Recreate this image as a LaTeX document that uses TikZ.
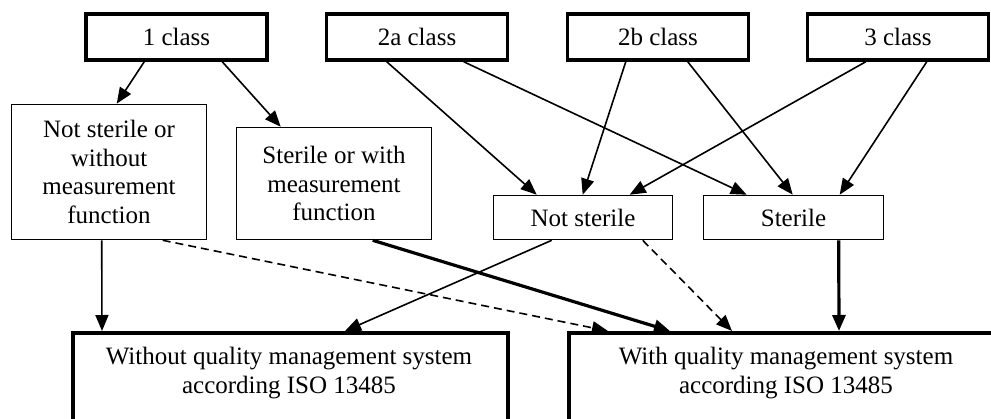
\documentclass[tikz,border=0pt]{standalone}
\usepackage{fontspec}
\setmainfont{Liberation Serif}
\usetikzlibrary{arrows.meta}
\begin{document}
\begin{tikzpicture}[x=1pt,y=-1pt,
  every node/.style={font=\fontsize{25}{28.5}\selectfont, inner sep=0pt, align=center},
  classbox/.style={draw, line width=3.5pt, minimum width=181pt, minimum height=46pt},
  midbox/.style={draw, line width=1.6pt},
  qmsbox/.style={draw, line width=3.5pt, minimum height=120pt, minimum width=435pt, anchor=north west},
  qmstext/.style={font=\fontsize{25}{29.5}\selectfont},
  conn/.style={line width=1.6pt, -{Triangle[length=16pt,width=13pt]}},
  thickconn/.style={line width=3.2pt, -{Triangle[length=16pt,width=13pt]}},
  dashconn/.style={line width=1.6pt, dash pattern=on 8pt off 5pt, -{Triangle[length=16pt,width=13pt]}}
]
\useasboundingbox (0,0) rectangle (991,418);
\clip (0,0) rectangle (991,418);
\fill[white] (0,0) rectangle (991,418);

% top class boxes
\node[classbox] (c1)  at (176.5,37) {1 class};
\node[classbox] (c2a) at (417,37)   {2a class};
\node[classbox] (c2b) at (658,37)   {2b class};
\node[classbox] (c3)  at (898,37)   {3 class};

% middle boxes
\node[midbox, minimum width=195pt, minimum height=135pt] (ns1) at (109,172)
  {Not sterile or\\without\\measurement\\function};
\node[midbox, minimum width=195pt, minimum height=112pt] (sw) at (334,183.5)
  {Sterile or with\\measurement\\function};
\node[midbox, minimum width=179pt, minimum height=44pt] (ns) at (583,217.5) {Not sterile};
\node[midbox, minimum width=180pt, minimum height=44pt] (st) at (793.5,217.5) {Sterile};

% bottom boxes (run past the picture's edges)
\node[qmsbox] (wo) at (71,331) {};
\node[qmsbox, minimum width=438pt] (wi) at (567,331) {};
\node[qmstext] (wot) at (289,373) {Without quality management system\\according ISO 13485};
\node[qmstext] (wit) at (786,373) {With quality management system\\according ISO 13485};

% class arrows
\draw[conn] ([xshift=60pt]c1.south west) -- ([xshift=106pt]ns1.north west);
\draw[conn] ([xshift=138pt]c1.south west) -- ([xshift=45pt]sw.north west);
\draw[conn] ([xshift=62pt]c2a.south west) -- ([xshift=44pt]ns.north west);
\draw[conn] ([xshift=139pt]c2a.south west) -- ([xshift=44pt]st.north west);
\draw[conn] ([xshift=60pt]c2b.south west) -- ([xshift=90pt]ns.north west);
\draw[conn] ([xshift=122pt]c2b.south west) -- ([xshift=90pt]st.north west);
\draw[conn] ([xshift=60pt]c3.south west) -- ([xshift=137pt]ns.north west);
\draw[conn] ([xshift=121pt]c3.south west) -- ([xshift=137pt]st.north west);

% lower arrows
\draw[conn] ([xshift=91pt]ns1.south west) -- ([xshift=31pt]wo.north west);
\draw[dashconn] ([xshift=152pt]ns1.south west) -- ([xshift=41pt]wi.north west);
\draw[thickconn] ([xshift=137pt]sw.south west) -- ([xshift=103pt]wi.north west);
\draw[conn] ([xshift=59pt]ns.south west) -- ([xshift=274pt]wo.north west);
\draw[dashconn] ([xshift=150pt]ns.south west) -- ([xshift=165pt]wi.north west);
\draw[thickconn] ([xshift=136pt]st.south west) -- ([xshift=272pt]wi.north west);
\end{tikzpicture}
\end{document}
